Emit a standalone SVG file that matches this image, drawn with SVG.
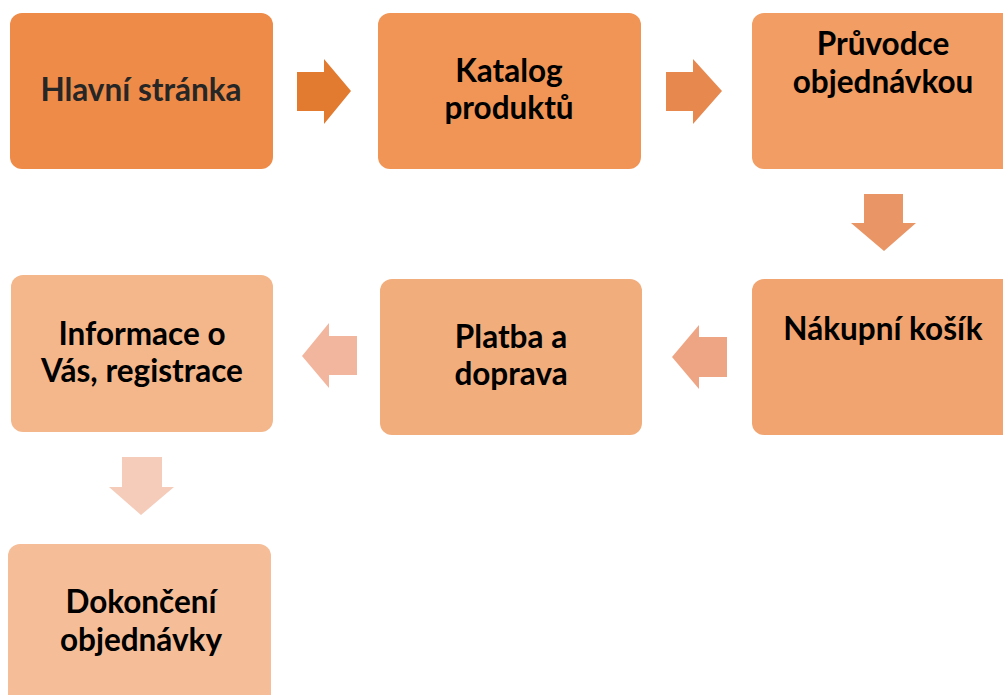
<svg xmlns="http://www.w3.org/2000/svg" width="1003" height="695" viewBox="0 0 1003 695">
<style>
.box{rx:12px;ry:12px}
.t{font-family:Lato,"Open Sans","Liberation Sans",sans-serif;font-weight:bold;font-size:31.5px;text-anchor:middle;fill:#000}
</style>
<rect width="1003" height="695" fill="#fff"/>
<g id="connectors">
<polygon points="297,72 324,72 324,59 351,91 324,124 324,111 297,111" fill="#E27A30"/>
<polygon points="666,72 693,72 693,59 722,91 693,124 693,111 666,111" fill="#E7884F"/>
<polygon points="864,194 903,194 903,223 916,223 884,251 851,223 864,223" fill="#EA9566"/>
<polygon points="727,337 699,337 699,325 672,357 699,389 699,377 727,377" fill="#EEA584"/>
<polygon points="357,336 329,336 329,323 302,356 329,388 329,375 357,375" fill="#F2B59D"/>
<polygon points="122,457 162,457 162,487 174,487 141,515 109,487 122,487" fill="#F5CBBA"/>
</g>
<g id="n1"><rect class="box" x="10" y="13" width="263" height="156" fill="#EE8B48"/><text class="t" x="141" y="101" style="fill:#262626">Hlavní stránka</text></g>
<g id="n2"><rect class="box" x="378" y="13" width="263" height="156" fill="#F09556"/><text class="t" x="509" y="82">Katalog</text><text class="t" x="509" y="119">produktů</text></g>
<g id="n3"><rect class="box" x="752" y="13" width="263" height="156" fill="#F19D63"/><text class="t" x="883" y="55">Průvodce</text><text class="t" x="883" y="93">objednávkou</text></g>
<g id="n4"><rect class="box" x="752" y="279" width="263" height="156" fill="#F1A470"/><text class="t" x="883" y="340">Nákupní košík</text></g>
<g id="n5"><rect class="box" x="380" y="279" width="262" height="156" fill="#F2AD7D"/><text class="t" x="511" y="348">Platba a</text><text class="t" x="511" y="385">doprava</text></g>
<g id="n6"><rect class="box" x="11" y="275" width="262" height="157" fill="#F4B78B"/><text class="t" x="142" y="345">Informace o</text><text class="t" x="142" y="382">Vás, registrace</text></g>
<g id="n7"><rect class="box" x="8" y="544" width="263" height="170" fill="#F5BE98"/><text class="t" x="141" y="613">Dokončení</text><text class="t" x="141" y="651">objednávky</text></g>
</svg>
